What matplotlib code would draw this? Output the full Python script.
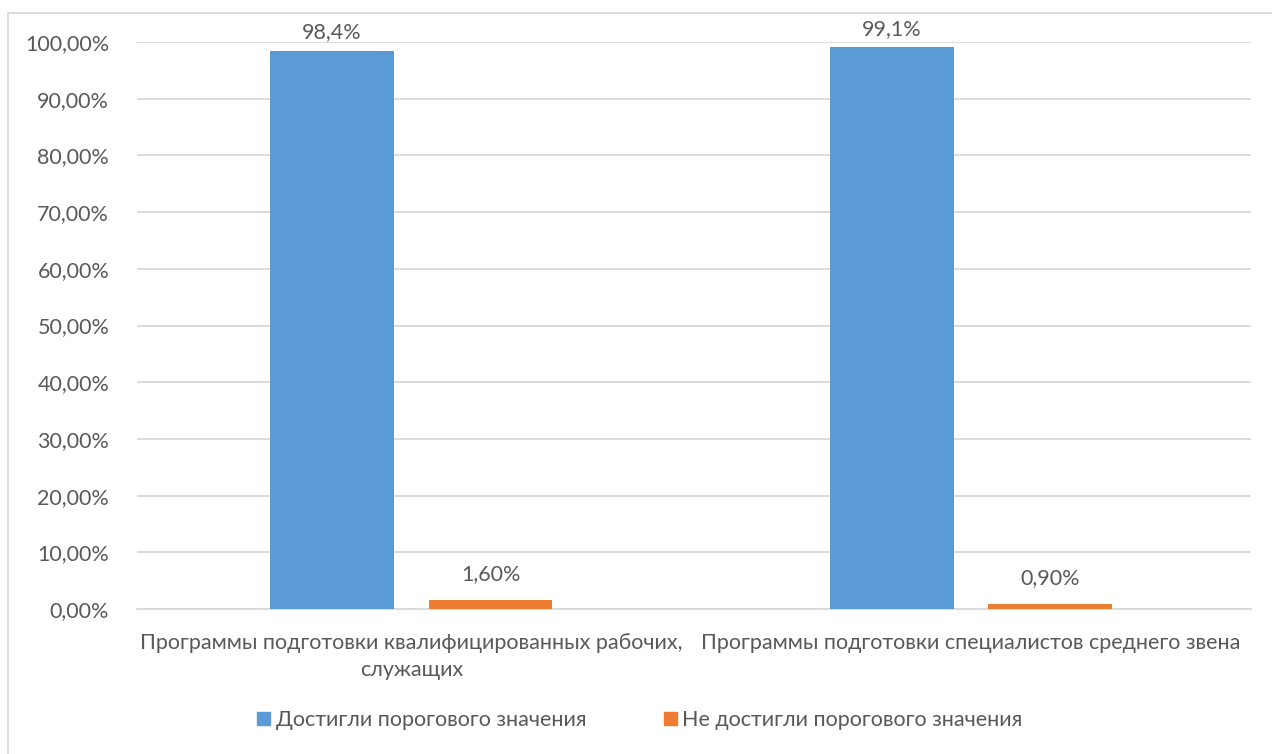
import numpy as np
import matplotlib.pyplot as plt
from matplotlib.lines import Line2D

categories = ['Программы подготовки квалифицированных рабочих,\nслужащих',
              'Программы подготовки специалистов среднего звена']
series_names = ['Достигли порогового значения', 'Не достигли порогового значения']
reached = [0.984, 0.991]
not_reached = [0.016, 0.009]
reached_labels = ['98,4%', '99,1%']
not_reached_labels = ['1,60%', '0,90%']
yticks = [0.0, 0.1, 0.2, 0.3, 0.4, 0.5, 0.6, 0.7, 0.8, 0.9, 1.0]

blue = '#5B9BD5'
orange = '#ED7D31'
txt = '#595959'
grid = '#D9D9D9'
fs = 15.5

plt.rcParams['font.family'] = ['Lato', 'DejaVu Sans']

fig = plt.figure(figsize=(12.72, 7.54), dpi=100)
ax = fig.add_axes([137 / 1272, 1 - 609 / 754, (1251 - 137) / 1272, (609 - 42) / 754])

x = np.arange(len(categories))
w = 0.221
off = 0.1415
b1 = ax.bar(x - off, reached, w, color=blue, label=series_names[0], zorder=3)
b2 = ax.bar(x + off, not_reached, w, color=orange, label=series_names[1], zorder=3)

for rect, lab in zip(b1, reached_labels):
    ax.text(rect.get_x() + rect.get_width() / 2, rect.get_height() + 0.015, lab,
            ha='center', va='bottom', fontsize=fs, color=txt)
for rect, lab in zip(b2, not_reached_labels):
    ax.text(rect.get_x() + rect.get_width() / 2, rect.get_height() + 0.028, lab,
            ha='center', va='bottom', fontsize=fs, color=txt)

ax.set_xlim(-0.49, 1.5)
ax.set_ylim(0, 1.0)
ax.set_yticks(yticks)
ax.set_yticklabels([f'{v * 100:.2f}%'.replace('.', ',') for v in yticks])
ax.set_xticks(x)
ax.set_xticklabels(categories, multialignment='center', linespacing=1.45)
ax.tick_params(axis='both', length=0, labelsize=fs, labelcolor=txt)
ax.tick_params(axis='x', pad=17)
ax.tick_params(axis='y', pad=20)
ax.yaxis.grid(True, color=grid, linewidth=1.3, zorder=0)
for s in ['top', 'right', 'left']:
    ax.spines[s].set_visible(False)
ax.spines['bottom'].set_color(grid)
ax.spines['bottom'].set_linewidth(1.3)

handles = [plt.Rectangle((0, 0), 1, 1, color=blue), plt.Rectangle((0, 0), 1, 1, color=orange)]
fig.legend(handles, series_names, loc='center', bbox_to_anchor=(0.503, 1 - 720 / 754), ncol=2,
           frameon=False, fontsize=fs, labelcolor=txt, handlelength=0.6, handleheight=0.6,
           handletextpad=0.25, columnspacing=3.6)

# рамка диаграммы (видны только левый и верхний края)
fig.add_artist(Line2D([8 / 1272, 8 / 1272], [0, 1 - 13 / 754], color=grid, linewidth=1.3, transform=fig.transFigure))
fig.add_artist(Line2D([8 / 1272, 1], [1 - 13 / 754, 1 - 13 / 754], color=grid, linewidth=1.3, transform=fig.transFigure))

plt.savefig('out.png', dpi=100)
